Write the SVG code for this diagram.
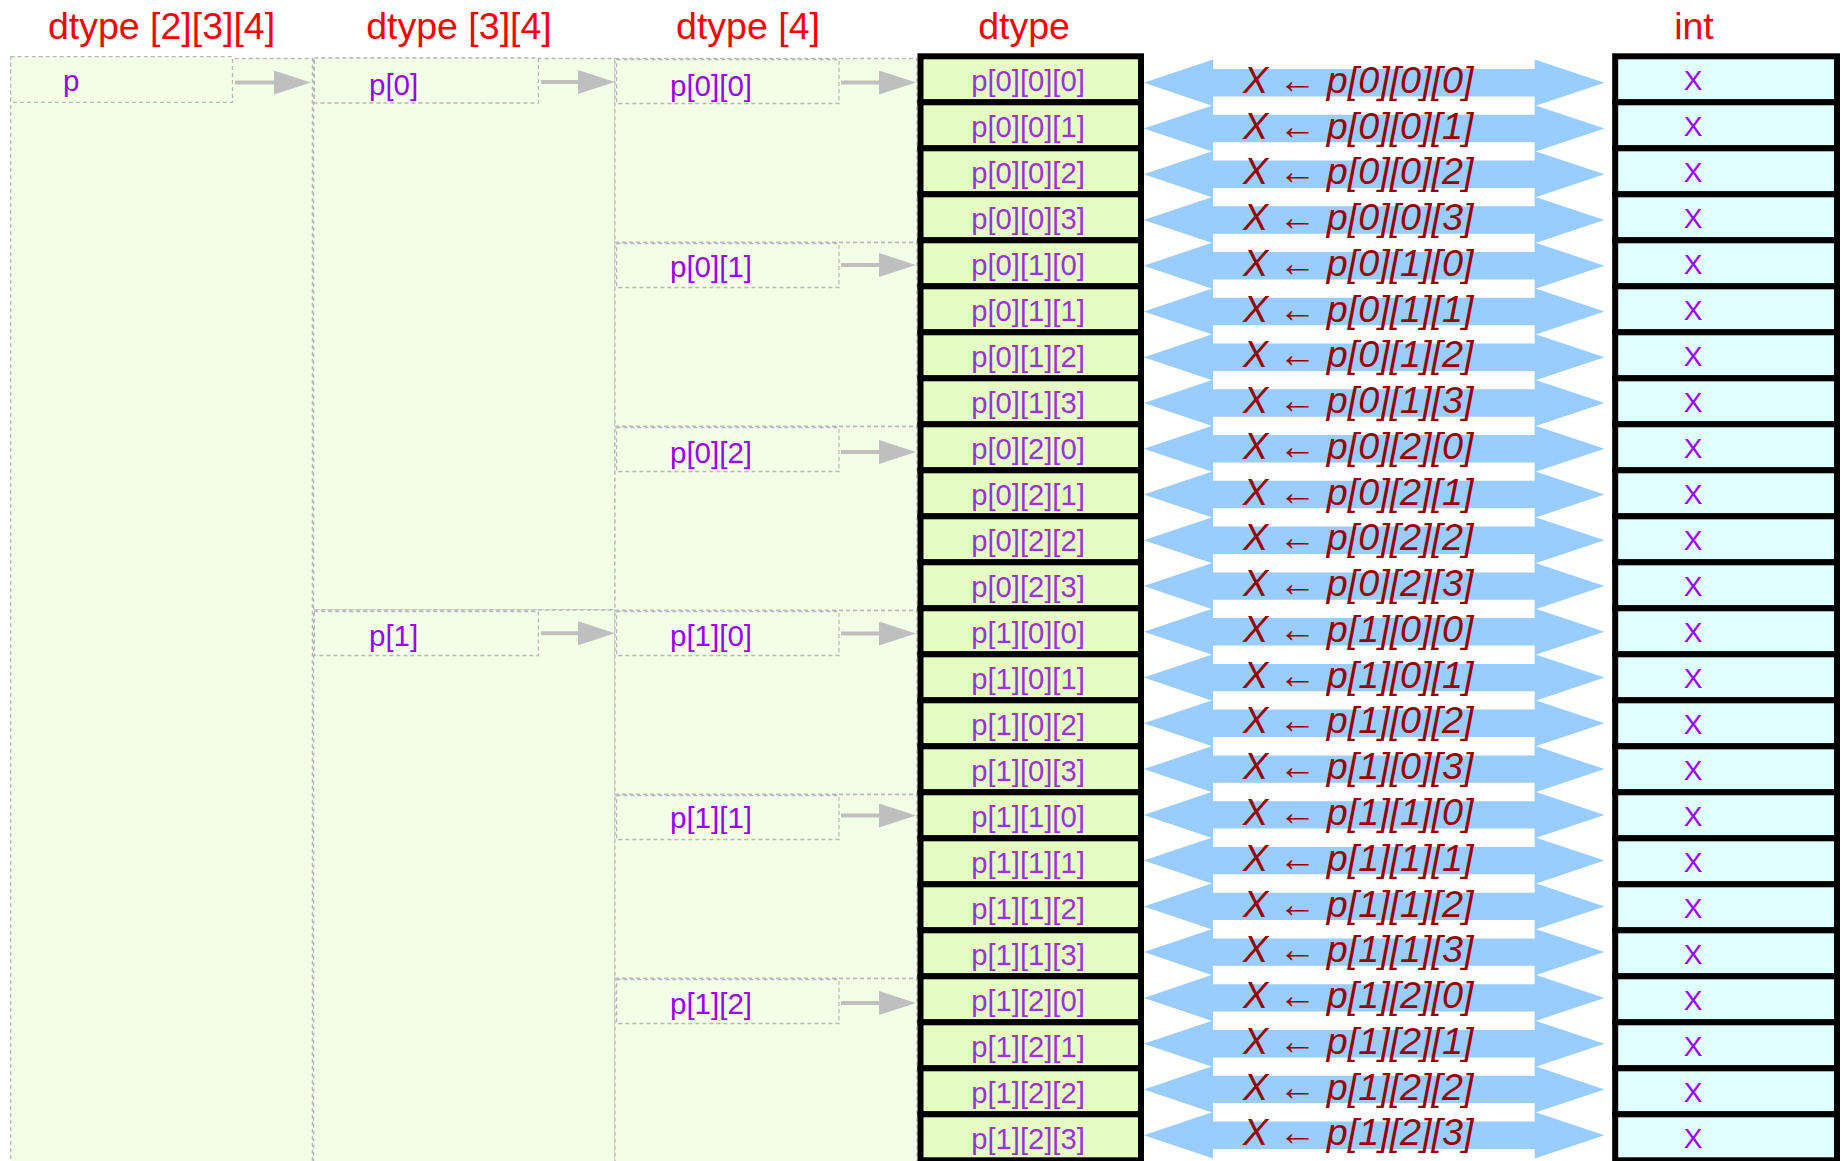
<svg xmlns="http://www.w3.org/2000/svg" xmlns:xlink="http://www.w3.org/1999/xlink" width="1844" height="1161" viewBox="0 0 1844 1161">
<style>
text{font-family:"Liberation Sans",Arial,sans-serif}
.title{font-size:37.5px;fill:#ff0000;text-anchor:middle}
.col{fill:#f3fee7;stroke:#b8b8b8;stroke-width:1.3;stroke-dasharray:4 3}
.lbl{font-size:29.5px;fill:#9900ff}
.cell{fill:#e5fcc3;stroke:#000;stroke-width:6}
.icell{fill:#e0ffff;stroke:#000;stroke-width:6}
.ct{font-size:29.2px;fill:#9933dd;text-anchor:middle}
.xt{font-size:28px;fill:#9900ff;text-anchor:middle}
.bl{fill:#99ccff}
.bt{font-size:37.7px;font-style:italic;fill:#990000}
.ga{stroke:#bfbfbf;stroke-width:4;fill:none;marker-end:url(#ah)}
</style>
<defs>
<marker id="ah" markerWidth="37" markerHeight="24" refX="2" refY="12" orient="auto" markerUnits="userSpaceOnUse">
<path d="M0,0 L37,12 L0,24 Z" fill="#bfbfbf"/>
</marker>
<path id="dbl" class="bl" d="M1143.7,0 L1213,-23.3 L1213,-13.7 L1534.7,-13.7 L1534.7,-23.3 L1604.5,0 L1534.7,23.3 L1534.7,13.7 L1213,13.7 L1213,23.3 Z"/>
</defs>
<rect width="1844" height="1161" fill="#ffffff"/>
<g id="titles">
<text class="title" x="161.5" y="38.5">dtype [2][3][4]</text>
<text class="title" x="459" y="38.5">dtype [3][4]</text>
<text class="title" x="748" y="38.5">dtype [4]</text>
<text class="title" x="1024" y="38.5">dtype</text>
<text class="title" x="1694" y="38.5">int</text>
</g>
<g id="col1">
<rect class="col" x="10.7" y="58.5" width="301.7" height="1120"/>
<g id="node-p"><rect class="col" x="10.7" y="56.7" width="221.8" height="45.6"/><text class="lbl" x="63" y="91">p</text></g>
</g>
<g id="col2">
<g id="node-p0"><rect class="col" x="313.6" y="58.5" width="301.4" height="551.5"/><rect class="col" x="314.4" y="58" width="224" height="45"/><text class="lbl" x="369" y="95">p[0]</text></g>
<g id="node-p1"><rect class="col" x="313.6" y="610" width="301.4" height="570"/><rect class="col" x="314.4" y="611.5" width="224" height="44"/><text class="lbl" x="369" y="645.5">p[1]</text></g>
</g>
<g id="col3">
<g id="node-p00"><rect class="col" x="615" y="58.5" width="302" height="184"/><rect class="col" x="616.6" y="59.5" width="222.4" height="44"/><text class="lbl" x="670" y="96">p[0][0]</text></g>
<g id="node-p01"><rect class="col" x="615" y="242.5" width="302" height="184"/><rect class="col" x="616.6" y="243.5" width="222.4" height="44"/><text class="lbl" x="670" y="277">p[0][1]</text></g>
<g id="node-p02"><rect class="col" x="615" y="426.5" width="302" height="184"/><rect class="col" x="616.6" y="427.5" width="222.4" height="44"/><text class="lbl" x="670" y="463">p[0][2]</text></g>
<g id="node-p10"><rect class="col" x="615" y="610.5" width="302" height="184"/><rect class="col" x="616.6" y="611.5" width="222.4" height="44"/><text class="lbl" x="670" y="646">p[1][0]</text></g>
<g id="node-p11"><rect class="col" x="615" y="794.5" width="302" height="184"/><rect class="col" x="616.6" y="795.5" width="222.4" height="44"/><text class="lbl" x="670" y="827.5">p[1][1]</text></g>
<g id="node-p12"><rect class="col" x="615" y="978.5" width="302" height="200"/><rect class="col" x="616.6" y="979.5" width="222.4" height="44"/><text class="lbl" x="670" y="1014">p[1][2]</text></g>
</g>
<g id="dtype-cells">
<g id="c000"><rect class="cell" x="920.5" y="56.3" width="220.5" height="46"/><text class="ct" x="1028" y="90.7">p[0][0][0]</text></g>
<g id="c001"><rect class="cell" x="920.5" y="102.3" width="220.5" height="46"/><text class="ct" x="1028" y="136.7">p[0][0][1]</text></g>
<g id="c002"><rect class="cell" x="920.5" y="148.3" width="220.5" height="46"/><text class="ct" x="1028" y="182.7">p[0][0][2]</text></g>
<g id="c003"><rect class="cell" x="920.5" y="194.3" width="220.5" height="46"/><text class="ct" x="1028" y="228.7">p[0][0][3]</text></g>
<g id="c010"><rect class="cell" x="920.5" y="240.3" width="220.5" height="46"/><text class="ct" x="1028" y="274.7">p[0][1][0]</text></g>
<g id="c011"><rect class="cell" x="920.5" y="286.3" width="220.5" height="46"/><text class="ct" x="1028" y="320.7">p[0][1][1]</text></g>
<g id="c012"><rect class="cell" x="920.5" y="332.3" width="220.5" height="46"/><text class="ct" x="1028" y="366.7">p[0][1][2]</text></g>
<g id="c013"><rect class="cell" x="920.5" y="378.3" width="220.5" height="46"/><text class="ct" x="1028" y="412.7">p[0][1][3]</text></g>
<g id="c020"><rect class="cell" x="920.5" y="424.3" width="220.5" height="46"/><text class="ct" x="1028" y="458.7">p[0][2][0]</text></g>
<g id="c021"><rect class="cell" x="920.5" y="470.3" width="220.5" height="46"/><text class="ct" x="1028" y="504.7">p[0][2][1]</text></g>
<g id="c022"><rect class="cell" x="920.5" y="516.3" width="220.5" height="46"/><text class="ct" x="1028" y="550.7">p[0][2][2]</text></g>
<g id="c023"><rect class="cell" x="920.5" y="562.3" width="220.5" height="46"/><text class="ct" x="1028" y="596.7">p[0][2][3]</text></g>
<g id="c100"><rect class="cell" x="920.5" y="608.3" width="220.5" height="46"/><text class="ct" x="1028" y="642.7">p[1][0][0]</text></g>
<g id="c101"><rect class="cell" x="920.5" y="654.3" width="220.5" height="46"/><text class="ct" x="1028" y="688.7">p[1][0][1]</text></g>
<g id="c102"><rect class="cell" x="920.5" y="700.3" width="220.5" height="46"/><text class="ct" x="1028" y="734.7">p[1][0][2]</text></g>
<g id="c103"><rect class="cell" x="920.5" y="746.3" width="220.5" height="46"/><text class="ct" x="1028" y="780.7">p[1][0][3]</text></g>
<g id="c110"><rect class="cell" x="920.5" y="792.3" width="220.5" height="46"/><text class="ct" x="1028" y="826.7">p[1][1][0]</text></g>
<g id="c111"><rect class="cell" x="920.5" y="838.3" width="220.5" height="46"/><text class="ct" x="1028" y="872.7">p[1][1][1]</text></g>
<g id="c112"><rect class="cell" x="920.5" y="884.3" width="220.5" height="46"/><text class="ct" x="1028" y="918.7">p[1][1][2]</text></g>
<g id="c113"><rect class="cell" x="920.5" y="930.3" width="220.5" height="46"/><text class="ct" x="1028" y="964.7">p[1][1][3]</text></g>
<g id="c120"><rect class="cell" x="920.5" y="976.3" width="220.5" height="46"/><text class="ct" x="1028" y="1010.7">p[1][2][0]</text></g>
<g id="c121"><rect class="cell" x="920.5" y="1022.3" width="220.5" height="46"/><text class="ct" x="1028" y="1056.7">p[1][2][1]</text></g>
<g id="c122"><rect class="cell" x="920.5" y="1068.3" width="220.5" height="46"/><text class="ct" x="1028" y="1102.7">p[1][2][2]</text></g>
<g id="c123"><rect class="cell" x="920.5" y="1114.3" width="220.5" height="46"/><text class="ct" x="1028" y="1148.7">p[1][2][3]</text></g>
</g>
<g id="int-cells">
<g id="x0"><rect class="icell" x="1615.2" y="56.3" width="221.8" height="46"/><text class="xt" x="1693" y="90.2">X</text></g>
<g id="x1"><rect class="icell" x="1615.2" y="102.3" width="221.8" height="46"/><text class="xt" x="1693" y="136.2">X</text></g>
<g id="x2"><rect class="icell" x="1615.2" y="148.3" width="221.8" height="46"/><text class="xt" x="1693" y="182.2">X</text></g>
<g id="x3"><rect class="icell" x="1615.2" y="194.3" width="221.8" height="46"/><text class="xt" x="1693" y="228.2">X</text></g>
<g id="x4"><rect class="icell" x="1615.2" y="240.3" width="221.8" height="46"/><text class="xt" x="1693" y="274.2">X</text></g>
<g id="x5"><rect class="icell" x="1615.2" y="286.3" width="221.8" height="46"/><text class="xt" x="1693" y="320.2">X</text></g>
<g id="x6"><rect class="icell" x="1615.2" y="332.3" width="221.8" height="46"/><text class="xt" x="1693" y="366.2">X</text></g>
<g id="x7"><rect class="icell" x="1615.2" y="378.3" width="221.8" height="46"/><text class="xt" x="1693" y="412.2">X</text></g>
<g id="x8"><rect class="icell" x="1615.2" y="424.3" width="221.8" height="46"/><text class="xt" x="1693" y="458.2">X</text></g>
<g id="x9"><rect class="icell" x="1615.2" y="470.3" width="221.8" height="46"/><text class="xt" x="1693" y="504.2">X</text></g>
<g id="x10"><rect class="icell" x="1615.2" y="516.3" width="221.8" height="46"/><text class="xt" x="1693" y="550.2">X</text></g>
<g id="x11"><rect class="icell" x="1615.2" y="562.3" width="221.8" height="46"/><text class="xt" x="1693" y="596.2">X</text></g>
<g id="x12"><rect class="icell" x="1615.2" y="608.3" width="221.8" height="46"/><text class="xt" x="1693" y="642.2">X</text></g>
<g id="x13"><rect class="icell" x="1615.2" y="654.3" width="221.8" height="46"/><text class="xt" x="1693" y="688.2">X</text></g>
<g id="x14"><rect class="icell" x="1615.2" y="700.3" width="221.8" height="46"/><text class="xt" x="1693" y="734.2">X</text></g>
<g id="x15"><rect class="icell" x="1615.2" y="746.3" width="221.8" height="46"/><text class="xt" x="1693" y="780.2">X</text></g>
<g id="x16"><rect class="icell" x="1615.2" y="792.3" width="221.8" height="46"/><text class="xt" x="1693" y="826.2">X</text></g>
<g id="x17"><rect class="icell" x="1615.2" y="838.3" width="221.8" height="46"/><text class="xt" x="1693" y="872.2">X</text></g>
<g id="x18"><rect class="icell" x="1615.2" y="884.3" width="221.8" height="46"/><text class="xt" x="1693" y="918.2">X</text></g>
<g id="x19"><rect class="icell" x="1615.2" y="930.3" width="221.8" height="46"/><text class="xt" x="1693" y="964.2">X</text></g>
<g id="x20"><rect class="icell" x="1615.2" y="976.3" width="221.8" height="46"/><text class="xt" x="1693" y="1010.2">X</text></g>
<g id="x21"><rect class="icell" x="1615.2" y="1022.3" width="221.8" height="46"/><text class="xt" x="1693" y="1056.2">X</text></g>
<g id="x22"><rect class="icell" x="1615.2" y="1068.3" width="221.8" height="46"/><text class="xt" x="1693" y="1102.2">X</text></g>
<g id="x23"><rect class="icell" x="1615.2" y="1114.3" width="221.8" height="46"/><text class="xt" x="1693" y="1148.2">X</text></g>
</g>
<g id="connectors">
<line class="ga" x1="235" y1="82.5" x2="276" y2="82.5"/>
<line class="ga" x1="541" y1="82" x2="580" y2="82"/>
<line class="ga" x1="541" y1="633.3" x2="580" y2="633.3"/>
<line class="ga" x1="841" y1="82.5" x2="881" y2="82.5"/>
<line class="ga" x1="841" y1="265" x2="881" y2="265"/>
<line class="ga" x1="841" y1="452" x2="881" y2="452"/>
<line class="ga" x1="841" y1="633.5" x2="881" y2="633.5"/>
<line class="ga" x1="841" y1="815.5" x2="881" y2="815.5"/>
<line class="ga" x1="841" y1="1003" x2="881" y2="1003"/>
<use xlink:href="#dbl" y="82.7"/>
<use xlink:href="#dbl" y="128.5"/>
<use xlink:href="#dbl" y="174.2"/>
<use xlink:href="#dbl" y="220"/>
<use xlink:href="#dbl" y="265.7"/>
<use xlink:href="#dbl" y="311.5"/>
<use xlink:href="#dbl" y="357.3"/>
<use xlink:href="#dbl" y="403"/>
<use xlink:href="#dbl" y="448.8"/>
<use xlink:href="#dbl" y="494.5"/>
<use xlink:href="#dbl" y="540.3"/>
<use xlink:href="#dbl" y="586.1"/>
<use xlink:href="#dbl" y="631.8"/>
<use xlink:href="#dbl" y="677.6"/>
<use xlink:href="#dbl" y="723.3"/>
<use xlink:href="#dbl" y="769.1"/>
<use xlink:href="#dbl" y="814.9"/>
<use xlink:href="#dbl" y="860.6"/>
<use xlink:href="#dbl" y="906.4"/>
<use xlink:href="#dbl" y="952.1"/>
<use xlink:href="#dbl" y="997.9"/>
<use xlink:href="#dbl" y="1043.7"/>
<use xlink:href="#dbl" y="1089.4"/>
<use xlink:href="#dbl" y="1135.2"/>
<text class="bt" x="1243" y="92.8">X ← p[0][0][0]</text>
<text class="bt" x="1243" y="138.6">X ← p[0][0][1]</text>
<text class="bt" x="1243" y="184.3">X ← p[0][0][2]</text>
<text class="bt" x="1243" y="230.1">X ← p[0][0][3]</text>
<text class="bt" x="1243" y="275.8">X ← p[0][1][0]</text>
<text class="bt" x="1243" y="321.6">X ← p[0][1][1]</text>
<text class="bt" x="1243" y="367.4">X ← p[0][1][2]</text>
<text class="bt" x="1243" y="413.1">X ← p[0][1][3]</text>
<text class="bt" x="1243" y="458.9">X ← p[0][2][0]</text>
<text class="bt" x="1243" y="504.6">X ← p[0][2][1]</text>
<text class="bt" x="1243" y="550.4">X ← p[0][2][2]</text>
<text class="bt" x="1243" y="596.2">X ← p[0][2][3]</text>
<text class="bt" x="1243" y="641.9">X ← p[1][0][0]</text>
<text class="bt" x="1243" y="687.7">X ← p[1][0][1]</text>
<text class="bt" x="1243" y="733.4">X ← p[1][0][2]</text>
<text class="bt" x="1243" y="779.2">X ← p[1][0][3]</text>
<text class="bt" x="1243" y="825">X ← p[1][1][0]</text>
<text class="bt" x="1243" y="870.7">X ← p[1][1][1]</text>
<text class="bt" x="1243" y="916.5">X ← p[1][1][2]</text>
<text class="bt" x="1243" y="962.2">X ← p[1][1][3]</text>
<text class="bt" x="1243" y="1008">X ← p[1][2][0]</text>
<text class="bt" x="1243" y="1053.8">X ← p[1][2][1]</text>
<text class="bt" x="1243" y="1099.5">X ← p[1][2][2]</text>
<text class="bt" x="1243" y="1145.3">X ← p[1][2][3]</text>
</g>
</svg>
